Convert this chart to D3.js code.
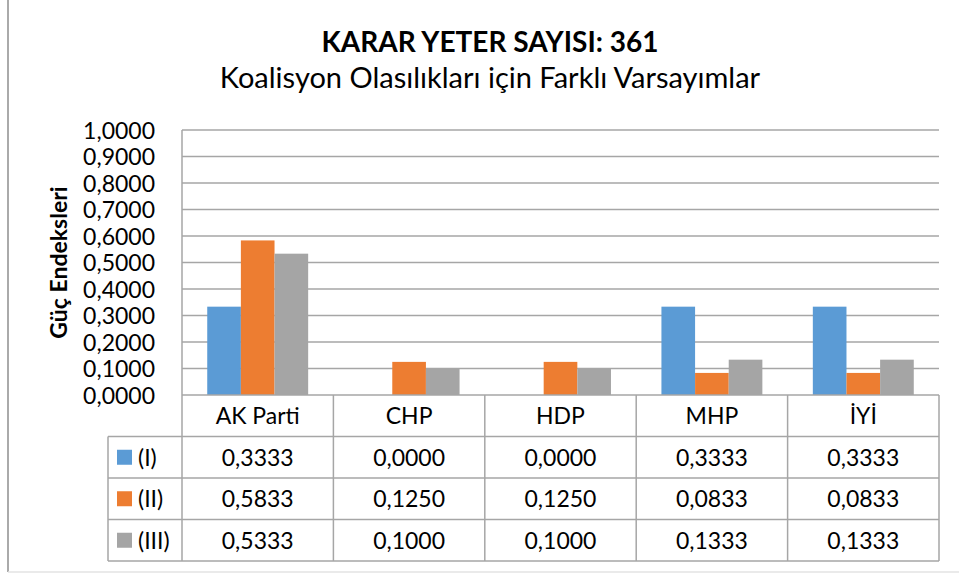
<!DOCTYPE html>
<html><head><meta charset="utf-8">
<script src="https://cdn.jsdelivr.net/npm/d3@7"></script>
<style>html,body{margin:0;padding:0;background:#fff;}svg{display:block;font-family:Lato,"Open Sans",sans-serif;}</style>
</head><body>
<script>
const categories = ["AK Parti", "CHP", "HDP", "MHP", "İYİ"];
const seriesNames = ["(I)", "(II)", "(III)"];
const seriesI = [0.3333, 0.0000, 0.0000, 0.3333, 0.3333];
const seriesII = [0.5833, 0.1250, 0.1250, 0.0833, 0.0833];
const seriesIII = [0.5333, 0.1000, 0.1000, 0.1333, 0.1333];
const colors = ["#5B9BD5", "#ED7D31", "#A5A5A5"];
const yTicks = [0, 0.1, 0.2, 0.3, 0.4, 0.5, 0.6, 0.7, 0.8, 0.9, 1.0];
const titleText = "KARAR YETER SAYISI: 361";
const subtitleText = "Koalisyon Olasılıkları için Farklı Varsayımlar";
const yAxisTitle = "Güç Endeksleri";

const series = [seriesI, seriesII, seriesIII];
const W = 959, H = 574;
const plotL = 182, plotR = 939, plotT = 130, plotB = 395;
const rowH = 41.5, legendLeft = 108;
const fmt = v => v.toFixed(4).replace(".", ",");

const svg = d3.select("body").append("svg").attr("width", W).attr("height", H);

// outer chart border
svg.append("line").attr("x1", 8).attr("x2", 8).attr("y1", 0).attr("y2", 572).attr("stroke", "#aaaaaa").attr("stroke-width", 2);
svg.append("line").attr("x1", 8).attr("x2", W).attr("y1", 572).attr("y2", 572).attr("stroke", "#e3e3e3").attr("stroke-width", 1.5);

const x = d3.scaleBand().domain(categories).range([plotL, plotR]).paddingInner(0).paddingOuter(0);
const xs = d3.scaleBand().domain(seriesNames).range([0, x.bandwidth()]).paddingInner(0).paddingOuter(0.75);
const y = d3.scaleLinear().domain([0, 1]).range([plotB, plotT]);

// gridlines
svg.append("g").selectAll("line").data(yTicks.filter(t => t > 0)).join("line")
  .attr("x1", plotL).attr("x2", plotR).attr("y1", d => y(d)).attr("y2", d => y(d))
  .attr("stroke", "#a6a6a6").attr("stroke-width", 1.5);

// y axis labels
const yAxis = d3.axisLeft(y).tickValues(yTicks).tickFormat(fmt).tickSize(0).tickPadding(27);
const gy = svg.append("g").attr("transform", `translate(${plotL},0)`).call(yAxis);
gy.select(".domain").remove();
gy.selectAll("text").attr("font-size", 23).attr("fill", "#000").attr("font-family", "Lato").attr("dy", "0.36em");

// bars
series.forEach((s, si) => {
  svg.append("g").selectAll("rect").data(s).join("rect")
    .attr("x", (d, i) => x(categories[i]) + xs(seriesNames[si]))
    .attr("width", xs.bandwidth())
    .attr("y", d => y(d))
    .attr("height", d => y(0) - y(d))
    .attr("fill", colors[si]);
});

// table lines
const tableBottom = plotB + rowH * 4;
const lines = svg.append("g").attr("stroke", "#a6a6a6").attr("stroke-width", 1.5);
lines.append("line").attr("x1", plotL).attr("x2", plotR).attr("y1", plotB).attr("y2", plotB);
for (let r = 1; r <= 4; r++) {
  lines.append("line").attr("x1", legendLeft).attr("x2", plotR).attr("y1", plotB + rowH * r).attr("y2", plotB + rowH * r);
}
lines.append("line").attr("x1", legendLeft).attr("x2", legendLeft).attr("y1", plotB + rowH).attr("y2", tableBottom);
lines.append("line").attr("x1", plotL).attr("x2", plotL).attr("y1", plotT).attr("y2", tableBottom);
categories.forEach(c => {
  const xr = x(c) + x.bandwidth();
  lines.append("line").attr("x1", xr).attr("x2", xr).attr("y1", plotB).attr("y2", tableBottom);
});

// header text
svg.append("g").selectAll("text").data(categories).join("text")
  .attr("x", d => x(d) + x.bandwidth() / 2).attr("y", plotB + rowH / 2)
  .attr("dy", "0.36em").attr("text-anchor", "middle").attr("font-size", 23).text(d => d);

// rows
series.forEach((s, si) => {
  const cy = plotB + rowH * (si + 1) + rowH / 2;
  svg.append("rect").attr("x", 117).attr("y", cy - 7.5).attr("width", 15).attr("height", 15).attr("fill", colors[si]);
  svg.append("text").attr("x", 138).attr("y", cy).attr("dy", "0.36em").attr("font-size", 23).text(seriesNames[si]);
  svg.append("g").selectAll("text").data(s).join("text")
    .attr("x", (d, i) => x(categories[i]) + x.bandwidth() / 2).attr("y", cy)
    .attr("dy", "0.36em").attr("text-anchor", "middle").attr("font-size", 23).text(d => fmt(d));
});

// titles
svg.append("text").attr("x", 490).attr("y", 52).attr("text-anchor", "middle")
  .attr("font-size", 28).attr("font-weight", "bold").text(titleText);
svg.append("text").attr("x", 490).attr("y", 88).attr("text-anchor", "middle")
  .attr("font-size", 29).text(subtitleText);

// y axis title
svg.append("text").attr("transform", `translate(67,${(plotT + plotB) / 2}) rotate(-90)`)
  .attr("text-anchor", "middle").attr("font-size", 23).attr("font-weight", "bold").text(yAxisTitle);
</script>
</body></html>
